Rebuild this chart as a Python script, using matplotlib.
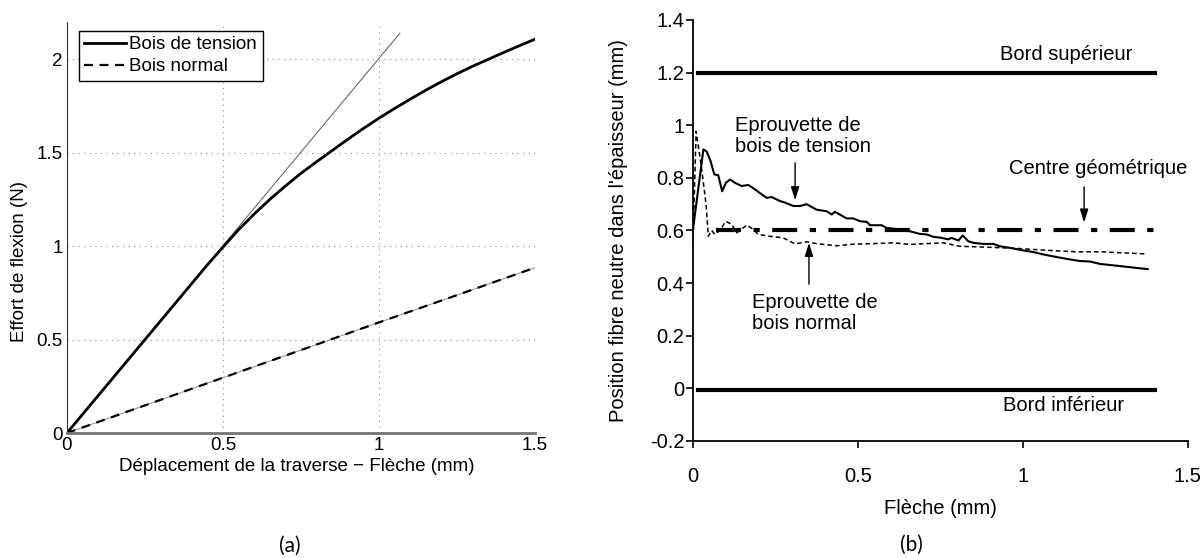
"""
Courbes effort-flèche et position de la fibre neutre
"""

import matplotlib
matplotlib.use("Agg")
import matplotlib.pyplot as plt

plt.rcParams["font.family"] = ["Liberation Sans", "DejaVu Sans"]

# ---- (a) effort de flexion ----
tension_x = [0, 0.1, 0.2, 0.3, 0.4, 0.45, 0.5, 0.55, 0.6, 0.65, 0.7, 0.75,
             0.8, 0.85, 0.9, 0.95, 1.0, 1.05, 1.1, 1.15, 1.2, 1.25, 1.3,
             1.35, 1.4, 1.45, 1.5]
tension_y = [0, 0.20, 0.40, 0.60, 0.80, 0.90, 0.995, 1.088, 1.172, 1.25,
             1.322, 1.39, 1.452, 1.512, 1.572, 1.63, 1.685, 1.737, 1.787,
             1.835, 1.88, 1.923, 1.963, 2.0, 2.037, 2.073, 2.108]
tangent_x = [0, 1.067]
tangent_y = [0, 2.14]
normal_x = [0, 0.25, 0.5, 0.75, 1.0, 1.25, 1.5]
normal_y = [0, 0.148, 0.296, 0.444, 0.592, 0.738, 0.885]

# ---- (b) position fibre neutre ----
fn_tension_x = [0.0, 0.032, 0.042, 0.054, 0.065, 0.077, 0.089, 0.100, 0.113,
                0.128, 0.148, 0.168, 0.183, 0.209, 0.224, 0.239, 0.264, 0.279,
                0.305, 0.325, 0.345, 0.375, 0.406, 0.421, 0.431, 0.466, 0.486,
                0.507, 0.527, 0.537, 0.572, 0.587, 0.608, 0.628, 0.658, 0.688,
                0.709, 0.729, 0.754, 0.774, 0.784, 0.805, 0.818, 0.835, 0.850,
                0.880, 0.910, 0.931, 0.961, 1.002, 1.032, 1.062, 1.103, 1.143,
                1.173, 1.204, 1.234, 1.300, 1.379]
fn_tension_y = [0.60, 0.908, 0.900, 0.863, 0.813, 0.810, 0.749, 0.781, 0.794,
                0.781, 0.769, 0.773, 0.761, 0.737, 0.724, 0.727, 0.712, 0.706,
                0.693, 0.693, 0.700, 0.679, 0.673, 0.661, 0.671, 0.646, 0.646,
                0.635, 0.633, 0.620, 0.620, 0.610, 0.607, 0.603, 0.597, 0.587,
                0.585, 0.576, 0.572, 0.566, 0.572, 0.562, 0.581, 0.559, 0.553,
                0.549, 0.549, 0.540, 0.534, 0.524, 0.518, 0.509, 0.499, 0.490,
                0.484, 0.482, 0.473, 0.464, 0.453]
fn_normal_x = [0.0, 0.010, 0.025, 0.040, 0.047, 0.057, 0.067, 0.082, 0.100,
               0.118, 0.133, 0.163, 0.183, 0.198, 0.233, 0.274, 0.310, 0.345,
               0.375, 0.436, 0.487, 0.567, 0.608, 0.658, 0.759, 0.809, 0.880,
               0.980, 1.083, 1.163, 1.234, 1.373]
fn_normal_y = [0.534, 0.977, 0.851, 0.700, 0.578, 0.600, 0.585, 0.600, 0.635,
               0.623, 0.591, 0.620, 0.605, 0.585, 0.578, 0.572, 0.549, 0.557,
               0.550, 0.542, 0.548, 0.551, 0.553, 0.547, 0.553, 0.540, 0.537,
               0.532, 0.524, 0.519, 0.519, 0.511]
bord_x = [0.017, 1.4]
bord_sup = 1.2
bord_inf = -0.006
centre_x = [0.07, 1.4]
centre_y = 0.6

fig = plt.figure(figsize=(12.02, 5.58), dpi=100)

# ---------------- (a) ----------------
fs_a = 13.5
ax1 = fig.add_axes([0.0557, 0.224, 0.3894, 0.7366])
ax1.plot(tangent_x, tangent_y, color="0.35", lw=0.7)
ax1.plot(normal_x, normal_y, color="0.55", lw=0.7)
ax1.plot(tension_x, tension_y, color="black", lw=2.0, label="Bois de tension")
ax1.plot(normal_x, normal_y, color="black", lw=1.6, ls=(0, (4, 3)),
         label="Bois normal")
ax1.set_xlim(0, 1.5)
ax1.set_ylim(0, 2.2)
ax1.set_xticks([0, 0.5, 1, 1.5])
ax1.set_xticklabels(["0", "0.5", "1", "1.5"])
ax1.set_yticks([0, 0.5, 1, 1.5, 2])
ax1.set_yticklabels(["0", "0.5", "1", "1.5", "2"])
ax1.tick_params(direction="in", length=0, labelsize=fs_a, pad=3)
ax1.grid(True, color="0.55", ls=(0, (1, 4)), lw=0.8)
for s in ["top", "right"]:
    ax1.spines[s].set_visible(False)
ax1.spines["bottom"].set_color("0.45")
ax1.spines["bottom"].set_linewidth(2)
ax1.spines["left"].set_color("0.2")
ax1.set_xlabel("Déplacement de la traverse − Flèche (mm)", fontsize=fs_a)
ax1.set_ylabel("Effort de flexion (N)", fontsize=fs_a)
ax1.xaxis.set_label_coords(0.49, -0.062)
ax1.yaxis.set_label_coords(-0.083, 0.417)
leg = ax1.legend(loc="upper left", bbox_to_anchor=(0.025, 0.979),
                 borderaxespad=0, fontsize=fs_a, handlelength=2.2,
                 handletextpad=0.2, labelspacing=0.25, borderpad=0.3,
                 fancybox=False, framealpha=1)
leg.get_frame().set_edgecolor("black")
leg.get_frame().set_linewidth(1.0)

# ---------------- (b) ----------------
fs_b = 14.5
ax2 = fig.add_axes([0.5764, 0.2097, 0.4117, 0.7545])
ax2.plot(bord_x, [bord_sup, bord_sup], color="black", lw=3)
ax2.plot(bord_x, [bord_inf, bord_inf], color="black", lw=3)
ax2.plot(centre_x, [centre_y, centre_y], color="black", lw=3,
         ls=(0, (6, 3, 1.5, 3)))
ax2.plot(fn_normal_x, fn_normal_y, color="black", lw=1.1, ls=(0, (3, 2)))
ax2.plot(fn_tension_x, fn_tension_y, color="black", lw=1.5)
ax2.set_xlim(0, 1.5)
ax2.set_ylim(-0.2, 1.4)
ax2.set_xticks([0, 0.5, 1, 1.5])
ax2.set_xticklabels(["0", "0.5", "1", "1.5"])
ax2.set_yticks([-0.2, 0, 0.2, 0.4, 0.6, 0.8, 1, 1.2, 1.4])
ax2.set_yticklabels(["-0.2", "0", "0.2", "0.4", "0.6", "0.8", "1", "1.2", "1.4"])
ax2.tick_params(direction="out", length=5, width=1.2, labelsize=fs_b)
ax2.tick_params(axis="x", pad=14)
ax2.tick_params(axis="y", pad=1)
for s in ["top", "right"]:
    ax2.spines[s].set_visible(False)
ax2.spines["left"].set_linewidth(1.3)
ax2.spines["bottom"].set_linewidth(1.3)
ax2.set_xlabel("Flèche (mm)", fontsize=fs_b)
ax2.set_ylabel("Position fibre neutre dans l'épaisseur (mm)", fontsize=fs_b)
ax2.xaxis.set_label_coords(0.5, -0.138)
ax2.yaxis.set_label_coords(-0.131, 0.5)

ax2.text(0.93, 1.27, "Bord supérieur", fontsize=fs_b, va="center")
ax2.text(0.94, -0.064, "Bord inférieur", fontsize=fs_b, va="center")
ax2.text(0.957, 0.834, "Centre géométrique", fontsize=fs_b, va="center")
ax2.text(0.129, 0.96, "Eprouvette de\nbois de tension", fontsize=fs_b,
         va="center", linespacing=1.15)
ax2.text(0.178, 0.285, "Eprouvette de\nbois normal", fontsize=fs_b,
         va="center", linespacing=1.15)

arrow = dict(arrowstyle="-|>,head_length=0.8,head_width=0.25",
             color="black", lw=1.0, shrinkA=0, shrinkB=0)
ax2.annotate("", xy=(0.31, 0.715), xytext=(0.31, 0.857), arrowprops=arrow)
ax2.annotate("", xy=(1.186, 0.63), xytext=(1.186, 0.766), arrowprops=arrow)
ax2.annotate("", xy=(0.352, 0.553), xytext=(0.352, 0.396), arrowprops=arrow)

fig.text(290 / 1202, 1 - 546 / 558, "(a)", fontsize=15, ha="center",
         va="center", family=["Lato", "DejaVu Sans"])
fig.text(911 / 1202, 1 - 545 / 558, "(b)", fontsize=15, ha="center",
         va="center", family=["Lato", "DejaVu Sans"])

fig.savefig("out.png", dpi=100)
plt.close(fig)
